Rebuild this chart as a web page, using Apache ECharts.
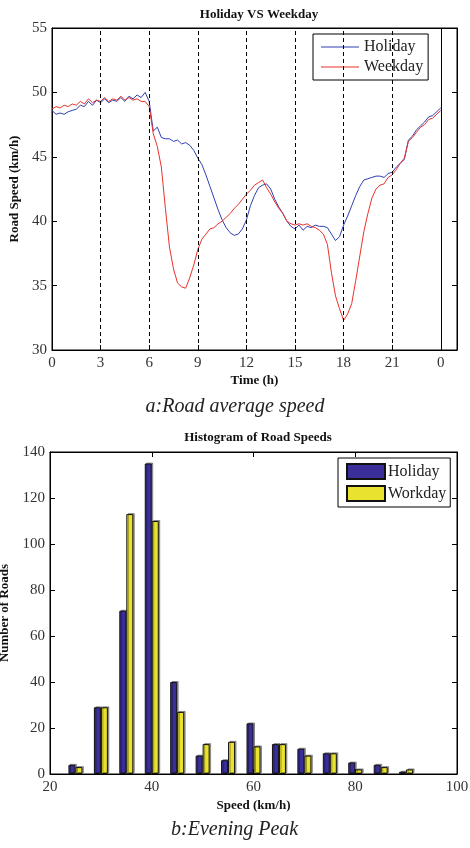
<!DOCTYPE html>
<html>
<head>
<meta charset="utf-8">
<script src="https://cdn.jsdelivr.net/npm/echarts@6/dist/echarts.min.js"></script>
<style>
  html, body { margin: 0; padding: 0; background: #fff; }
  #main { width: 470px; height: 848px; }
</style>
</head>
<body>
<div id="main"></div>
<script>
// time of day (h), sampled every quarter hour
var hours = [0, 0.25, 0.5, 0.75, 1, 1.25, 1.5, 1.75, 2, 2.25, 2.5, 2.75, 3, 3.25, 3.5, 3.75,
  4, 4.25, 4.5, 4.75, 5, 5.25, 5.5, 5.75, 6, 6.25, 6.5, 6.75, 7, 7.25, 7.5, 7.75,
  8, 8.25, 8.5, 8.75, 9, 9.25, 9.5, 9.75, 10, 10.25, 10.5, 10.75, 11, 11.25, 11.5, 11.75,
  12, 12.25, 12.5, 12.75, 13, 13.25, 13.5, 13.75, 14, 14.25, 14.5, 14.75, 15, 15.25, 15.5, 15.75,
  16, 16.25, 16.5, 16.75, 17, 17.25, 17.5, 17.75, 18, 18.25, 18.5, 18.75, 19, 19.25, 19.5, 19.75,
  20, 20.25, 20.5, 20.75, 21, 21.25, 21.5, 21.75, 22, 22.25, 22.5, 22.75, 23, 23.25, 23.5, 23.75, 24];

var holidaySpeed = [48.6, 48.3, 48.4, 48.3, 48.5, 48.6, 48.7, 49.0, 48.9, 49.3, 49.0, 49.4, 49.2, 49.5, 49.2, 49.4,
  49.3, 49.6, 49.3, 49.7, 49.5, 49.8, 49.6, 50.0, 49.3, 47.0, 47.3, 46.5, 46.4, 46.4, 46.2, 46.3,
  46.0, 46.1, 45.9, 45.5, 44.9, 44.4, 43.6, 42.7, 41.8, 40.9, 40.1, 39.5, 39.1, 38.9, 39.0, 39.4,
  40.1, 41.2, 42.0, 42.6, 42.8, 42.9, 42.5, 41.7, 41.1, 40.6, 40.0, 39.6, 39.4, 39.7, 39.3, 39.6,
  39.5, 39.7, 39.6, 39.6, 39.5, 39.0, 38.5, 38.8, 39.7, 40.4, 41.2, 42.0, 42.7, 43.2, 43.3, 43.4,
  43.5, 43.5, 43.4, 43.7, 43.8, 44.2, 44.5, 44.8, 46.3, 46.6, 47.1, 47.4, 47.7, 48.1, 48.2, 48.5, 48.8];

var weekdaySpeed = [48.7, 48.9, 48.8, 49.0, 48.9, 49.1, 49.0, 49.3, 49.1, 49.5, 49.2, 49.4, 49.3, 49.6, 49.3, 49.5,
  49.4, 49.7, 49.4, 49.6, 49.4, 49.5, 49.3, 49.3, 48.9, 46.8, 45.8, 44.2, 41.0, 38.0, 36.3, 35.2,
  34.9, 34.8, 35.6, 36.6, 37.8, 38.6, 39.0, 39.4, 39.5, 39.8, 40.0, 40.3, 40.6, 41.0, 41.3, 41.7,
  42.1, 42.4, 42.8, 43.0, 43.2, 42.6, 42.1, 41.5, 41.0, 40.6, 40.0, 39.8, 39.7, 39.8, 39.7, 39.8,
  39.6, 39.5, 39.3, 39.0, 38.2, 36.0, 34.2, 33.2, 32.3, 32.8, 33.6, 35.4, 37.3, 39.2, 40.6, 41.8,
  42.5, 42.8, 42.9, 43.4, 43.6, 44.0, 44.5, 44.9, 46.2, 46.5, 46.9, 47.3, 47.5, 47.9, 48.0, 48.3, 48.6];

var refHours = [3, 6, 9, 12, 15, 18, 21];

// histogram bins (km/h) and counts
var speedBins = [25, 30, 35, 40, 45, 50, 55, 60, 65, 70, 75, 80, 85, 90];
var holidayCount = [4, 29, 71, 135, 40, 8, 6, 22, 13, 11, 9, 5, 4, 1];
var workdayCount = [3, 29, 113, 110, 27, 13, 14, 12, 13, 8, 9, 2, 3, 2];

var serif = 'Liberation Serif';
var blue = '#2f3fb4', red = '#e8322b';
var barBlue = '#3a2e98', barYellow = '#e9e22f';

function pairs(xs, ys) { return xs.map(function (x, i) { return [x, ys[i]]; }); }

var tickLbl = { fontFamily: serif, fontSize: 15, color: '#333' };
var inTick = { show: true, inside: true, length: 5, lineStyle: { color: '#000' } };
var blackLine = { show: true, onZero: false, lineStyle: { color: '#000', width: 1 } };
var nameFont = { fontFamily: serif, fontSize: 13, fontWeight: 'bold', color: '#111' };

var markLines = refHours.map(function (h) {
  return { xAxis: h, lineStyle: { type: [4, 3], color: '#000', width: 1 } };
});
markLines.push({ xAxis: 24, lineStyle: { type: 'solid', color: '#000', width: 1 } });

var myChart = echarts.init(document.getElementById('main'));
var option = {
  animation: false,
  backgroundColor: '#fff',
  title: [
    { text: 'Holiday VS Weekday', left: 254, top: 3, textAlign: 'center',
      textStyle: { fontFamily: serif, fontSize: 13, fontWeight: 'bold', color: '#111' } },
    { text: 'Histogram of Road Speeds', left: 253, top: 426, textAlign: 'center',
      textStyle: { fontFamily: serif, fontSize: 13, fontWeight: 'bold', color: '#111' } }
  ],
  legend: [
    { data: ['Holiday', 'Weekday'], orient: 'vertical', left: 313, top: 34,
      backgroundColor: '#fff', borderColor: '#000', borderWidth: 1, padding: [5, 5, 5, 8],
      itemGap: 4, itemWidth: 38, itemHeight: 14, icon: 'path://M0,0 L38,0 L38,1.2 L0,1.2 Z',
      itemStyle: { borderWidth: 0 },
      textStyle: { fontFamily: serif, fontSize: 16, color: '#222' } },
    { data: ['Holiday ', 'Workday'], orient: 'vertical', left: 338, top: 458,
      backgroundColor: '#fff', borderColor: '#000', borderWidth: 1, padding: [5, 4, 5, 8],
      itemGap: 5, itemWidth: 38, itemHeight: 15, icon: 'rect',
      textStyle: { fontFamily: serif, fontSize: 16, color: '#222', padding: [0, 0, 0, -2] } }
  ],
  grid: [
    { left: 52, right: 13, top: 28, height: 322, show: true, borderColor: '#000', borderWidth: 1,
      containLabel: false, outerBoundsMode: 'none' },
    { left: 50, right: 13, top: 452, height: 322, show: true, borderColor: '#000', borderWidth: 1,
      containLabel: false, outerBoundsMode: 'none' }
  ],
  xAxis: [
    { type: 'value', gridIndex: 0, min: 0, max: 25, interval: 3,
      axisLine: blackLine, axisTick: inTick, splitLine: { show: false },
      axisLabel: Object.assign({ margin: 6, showMaxLabel: false,
        formatter: function (v) { return v === 24 ? '0' : (v > 24 ? '' : String(v)); } }, tickLbl),
      name: 'Time (h)', nameLocation: 'middle', nameGap: 24, nameTextStyle: nameFont },
    { type: 'value', gridIndex: 0, position: 'top', min: 0, max: 25, interval: 3,
      axisLine: blackLine, axisTick: { show: false }, axisLabel: { show: false }, splitLine: { show: false } },
    { type: 'value', gridIndex: 1, min: 20, max: 100, interval: 20,
      axisLine: blackLine, axisTick: inTick, splitLine: { show: false },
      axisLabel: Object.assign({ margin: 6 }, tickLbl),
      name: 'Speed (km/h)', nameLocation: 'middle', nameGap: 25, nameTextStyle: nameFont },
    { type: 'value', gridIndex: 1, position: 'top', min: 20, max: 100, interval: 20,
      axisLine: blackLine, axisTick: inTick, axisLabel: { show: false }, splitLine: { show: false } }
  ],
  yAxis: [
    { type: 'value', gridIndex: 0, min: 30, max: 55, interval: 5,
      axisLine: blackLine, axisTick: inTick, splitLine: { show: false },
      axisLabel: Object.assign({ margin: 5 }, tickLbl),
      name: 'Road Speed (km/h)', nameLocation: 'middle', nameGap: 24, nameTextStyle: nameFont },
    { type: 'value', gridIndex: 0, position: 'right', min: 30, max: 55, interval: 5,
      axisLine: blackLine, axisTick: inTick, axisLabel: { show: false }, splitLine: { show: false } },
    { type: 'value', gridIndex: 1, min: 0, max: 140, interval: 20,
      axisLine: blackLine, axisTick: inTick, splitLine: { show: false },
      axisLabel: Object.assign({ margin: 5 }, tickLbl),
      name: 'Number of Roads', nameLocation: 'middle', nameGap: 32, nameTextStyle: nameFont },
    { type: 'value', gridIndex: 1, position: 'right', min: 0, max: 140, interval: 20,
      axisLine: blackLine, axisTick: inTick, axisLabel: { show: false }, splitLine: { show: false } }
  ],
  series: [
    { name: 'Holiday', type: 'line', xAxisIndex: 0, yAxisIndex: 0, data: pairs(hours, holidaySpeed),
      showSymbol: false, symbol: 'none', color: blue, lineStyle: { width: 1, color: blue }, z: 3,
      markLine: { silent: true, symbol: 'none', label: { show: false }, data: markLines } },
    { name: 'Weekday', type: 'line', xAxisIndex: 0, yAxisIndex: 0, data: pairs(hours, weekdaySpeed),
      showSymbol: false, symbol: 'none', color: red, lineStyle: { width: 1, color: red }, z: 4 },
    { name: 'Holiday ', type: 'bar', xAxisIndex: 2, yAxisIndex: 2, data: pairs(speedBins, holidayCount),
      barWidth: 7, barGap: '0%', color: barBlue,
      itemStyle: { color: barBlue, borderColor: '#111', borderWidth: 1,
        shadowColor: 'rgba(0,0,0,0.35)', shadowOffsetX: 1.5, shadowOffsetY: -1 } },
    { name: 'Workday', type: 'bar', xAxisIndex: 2, yAxisIndex: 2, data: pairs(speedBins, workdayCount),
      barWidth: 7, barGap: '0%', color: barYellow,
      itemStyle: { color: barYellow, borderColor: '#111', borderWidth: 1,
        shadowColor: 'rgba(0,0,0,0.35)', shadowOffsetX: 1.5, shadowOffsetY: -1 } }
  ],
  graphic: [
    { type: 'text', left: 'center', top: 397, style: { text: 'a:Road average speed',
      font: 'italic 20px "Liberation Serif"', fill: '#222' } },
    { type: 'text', left: 171, top: 820, style: { text: 'b:Evening Peak',
      font: 'italic 20px "Liberation Serif"', fill: '#222' } }
  ]
};
myChart.setOption(option);
</script>
</body>
</html>
